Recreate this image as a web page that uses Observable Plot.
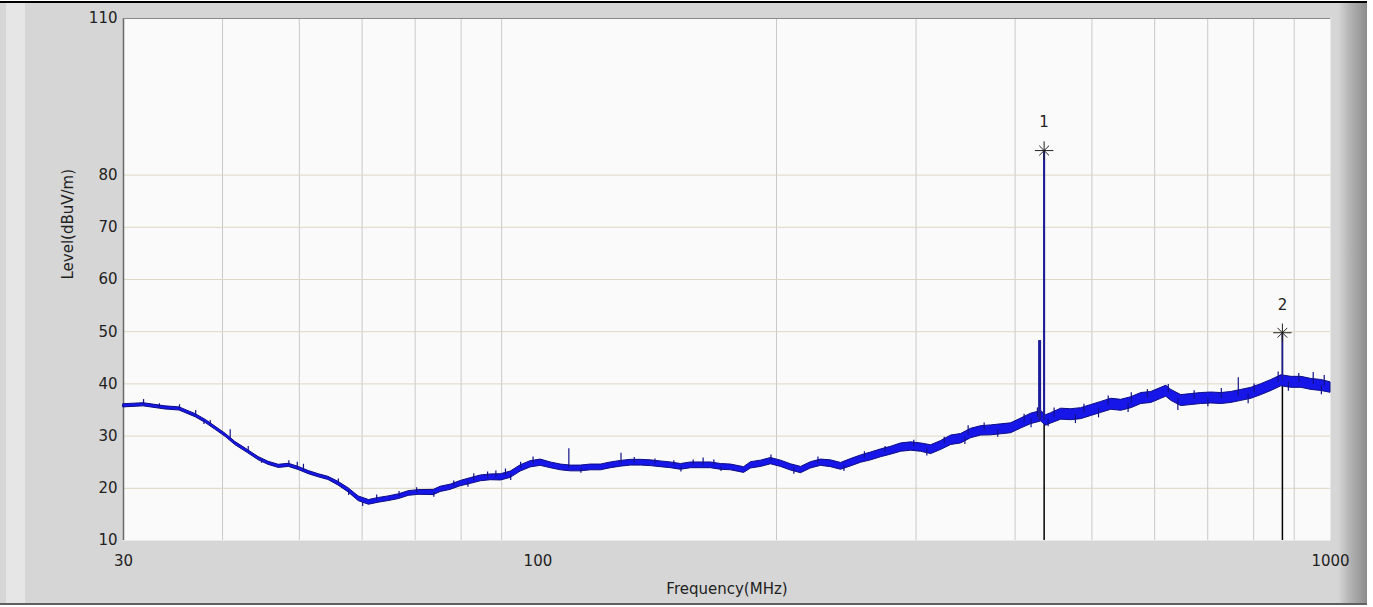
<!DOCTYPE html>
<html>
<head>
<meta charset="utf-8">
<script src="https://cdn.jsdelivr.net/npm/d3@7"></script>
<script src="https://cdn.jsdelivr.net/npm/@observablehq/plot@0.6"></script>
<style>
  body { margin: 0; background: #ffffff; }
  #wrap { position: relative; width: 1373px; height: 607px; overflow: hidden; }
  #frame { position: absolute; left: 0; top: 1px; width: 1367px; height: 604px; background: #d6d6d6;
           border-top: 2px solid #000; border-bottom: 2px solid #606060; box-sizing: border-box; }
  #lstrip { position: absolute; left: 6px; top: 3px; width: 19px; height: 600px; background: #e6e6e6; }
  #rstrip { position: absolute; left: 1338px; top: 3px; width: 29px; height: 600px;
            background: linear-gradient(to right, #d6d6d6, #b4b4b4 40%, #8c8c8c); }
  #chart { position: absolute; left: 0; top: 0; }
</style>
</head>
<body>
<div id="wrap">
  <div id="frame"></div>
  <div id="lstrip"></div>
  <div id="rstrip"></div>
  <div id="chart"></div>
</div>
<script>
// Trace: frequency (MHz), centre level (dBuV/m), half thickness of the noise band (dB)
const freq = [30, 31.8, 33.9, 35.3, 37.0, 38.1, 39.2, 40.4, 41.5, 43.1, 44.4, 45.7, 47.1, 48.5, 49.9, 51.4,
  52.9, 54.4, 56.0, 57.7, 59.4, 61.2, 63.0, 64.8, 66.8, 68.7, 70.7, 73.9, 75.4, 77.6, 79.9, 82.3, 84.7, 87.2,
  89.8, 92.4, 95.1, 97.9, 100.8, 103.8, 106.9, 110.0, 113.3, 116.6, 120.1, 123.6, 127.3, 131.0, 134.9, 138.8,
  142.9, 147.2, 151.5, 156.0, 160.6, 165.3, 170.2, 175.2, 182.0, 185.7, 191.2, 196.8, 202.6, 208.6, 214.8,
  221.0, 227.6, 234.3, 241.2, 248.3, 255.7, 263.2, 270.9, 279.0, 287.2, 295.7, 304.4, 313.4, 322.6, 332.2,
  341.9, 352.0, 362.4, 373.1, 384.1, 395.4, 407.0, 419.1, 431.4, 437.7, 444.2, 457.3, 470.8, 484.6, 499.0,
  513.8, 528.9, 544.5, 560.6, 577.1, 594.2, 611.6, 620.6, 629.7, 648.2, 667.3, 686.9, 707.3, 728.2, 749.5,
  771.8, 794.6, 817.9, 842.2, 867.0, 892.6, 919.0, 945.9, 973.8, 1000];
const level = [35.8, 36.0, 35.4, 35.2, 33.9, 32.8, 31.5, 30.1, 28.6, 27.0, 25.7, 24.8, 24.2, 24.4, 23.8, 23.0,
  22.4, 21.9, 20.9, 19.6, 18.0, 17.3, 17.7, 18.0, 18.4, 19.0, 19.2, 19.2, 19.8, 20.2, 20.9, 21.4, 21.9, 22.1,
  22.1, 22.6, 23.8, 24.6, 24.9, 24.4, 24.0, 23.8, 23.8, 24.0, 24.0, 24.4, 24.7, 24.9, 24.9, 24.8,
  24.6, 24.4, 24.1, 24.4, 24.4, 24.4, 24.1, 24.0, 23.5, 24.4, 24.7, 25.2, 24.7, 24.0, 23.5,
  24.4, 24.9, 24.7, 24.2, 24.9, 25.6, 26.1, 26.7, 27.2, 27.8, 28.0, 27.8, 27.4, 28.2, 29.2,
  29.5, 30.5, 31.0, 31.1, 31.3, 31.5, 32.4, 33.3, 33.8, 33.0, 33.4, 34.2, 34.1, 34.3, 34.9,
  35.5, 36.1, 35.9, 36.4, 37.2, 37.4, 38.2, 38.6, 37.8, 36.8, 37.0, 37.2, 37.3, 37.2, 37.4,
  37.8, 38.2, 38.9, 39.7, 40.6, 40.3, 40.3, 39.9, 39.7, 39.3];
const halfBand = [0.3, 0.3, 0.3, 0.3, 0.3, 0.3, 0.3, 0.3, 0.3, 0.3, 0.3, 0.3, 0.3, 0.3, 0.3, 0.3,
  0.3, 0.3, 0.35, 0.4, 0.45, 0.45, 0.45, 0.45, 0.45, 0.45, 0.45, 0.5, 0.5, 0.5, 0.5, 0.55, 0.55, 0.55,
  0.6, 0.6, 0.6, 0.6, 0.6, 0.55, 0.55, 0.55, 0.55, 0.55, 0.55, 0.55, 0.55, 0.55, 0.55, 0.55,
  0.55, 0.55, 0.55, 0.55, 0.55, 0.55, 0.55, 0.55, 0.55, 0.6, 0.6, 0.6, 0.6, 0.6, 0.6,
  0.6, 0.6, 0.65, 0.65, 0.7, 0.7, 0.75, 0.75, 0.75, 0.8, 0.8, 0.8, 0.85, 0.85, 0.9,
  0.9, 0.9, 0.9, 0.95, 0.95, 0.95, 0.95, 1.0, 1.0, 1.0, 1.0, 1.05, 1.05, 1.05, 1.05,
  1.05, 1.05, 1.05, 1.05, 1.05, 1.05, 1.05, 1.05, 1.05, 1.05, 1.05, 1.05, 1.05, 1.05, 1.05,
  1.05, 1.05, 1.05, 1.05, 1.05, 1.05, 1.05, 1.05, 1.05, 1.0];

// Narrow noise spikes visible on the trace (frequency, start level, tip level)
const spikeFreq = [31.8, 33.3, 35.3, 37.0, 38.6, 40.9, 43.1, 48.5, 49.7, 50.6, 56.0, 62.6, 66.8, 70.3, 78.3,
  83.0, 86.4, 88.5, 91.0, 95.1, 98.6, 109.4, 127.3, 132.3, 140.5, 148.4, 157.0, 161.6, 166.7, 196.8, 225.6,
  258.2, 274.2, 298.0, 325.6, 349.0, 365.6, 410.6, 426.8, 448.0, 488.6, 524.3, 560.6, 587.5, 624.2, 672.9,
  728.2, 765.0, 801.0, 859.0, 912.0, 951.0, 982.0,
  37.9, 44.8, 57.7, 60.1, 73.9, 81.6, 92.4, 113.3, 151.5, 170.2, 210.3, 243.3, 309.5, 345.7, 380.3, 419.0,
  440.3, 476.6, 509.7, 555.4, 641.8, 700.3, 787.2, 884.8, 973.8];
const spikeBase = [36.0, 35.5, 35.2, 33.9, 32.2, 29.6, 27.0, 24.4, 23.9, 23.4, 20.9, 17.7, 18.4, 19.2, 20.4,
  21.5, 22.0, 22.1, 22.4, 23.8, 24.7, 23.8, 24.7, 24.9, 24.7, 24.3, 24.4, 24.4, 24.4, 25.2, 24.8,
  25.8, 26.9, 28.0, 28.5, 30.2, 31.0, 32.6, 33.6, 33.6, 34.4, 35.9, 36.4, 37.3, 38.3, 37.0,
  37.2, 37.7, 38.3, 40.3, 40.3, 39.9, 39.6,
  32.9, 25.4, 19.6, 17.3, 19.2, 21.2, 22.6, 23.8, 24.1, 24.1, 23.9, 24.3, 27.6, 29.8, 31.2, 33.3,
  33.2, 34.2, 35.3, 36.3, 37.2, 37.3, 38.1, 40.4, 39.7];
const spikeTip = [37.0, 36.2, 36.0, 34.9, 33.0, 31.2, 28.0, 25.3, 25.0, 24.6, 21.8, 18.7, 19.4, 20.1, 21.4,
  22.8, 23.1, 23.3, 23.7, 25.0, 26.0, 27.6, 26.7, 25.9, 25.6, 25.3, 25.4, 25.8, 25.4, 26.4, 26.0,
  27.0, 28.0, 29.2, 29.8, 32.0, 32.5, 34.2, 35.4, 35.4, 36.1, 37.7, 38.3, 38.9, 39.9, 38.7,
  39.1, 41.2, 40.0, 42.3, 42.0, 42.2, 41.6,
  32.2, 24.8, 18.6, 16.5, 18.3, 20.2, 21.5, 22.9, 23.1, 23.2, 22.7, 23.2, 26.2, 28.4, 29.8, 31.6,
  31.8, 32.4, 33.5, 34.5, 34.9, 35.6, 36.2, 38.6, 37.9];

// Emission peaks
const peakFreq = [429.5, 435.2, 869.6];
const peakBase = [33.0, 33.0, 40.6];
const peakTop  = [48.3, 84.7, 49.8];
const peakWidth = [3, 2, 1.5];

// Markers
const markerLabel = ["1", "2"];
const markerFreq = [435.2, 869.6];
const markerLevel = [84.7, 49.8];

// Axes
const xTicks = [30, 100, 1000];
const yTicks = [10, 20, 30, 40, 50, 60, 70, 80, 110];
const gridX = [40, 50, 60, 70, 80, 90, 200, 300, 400, 500, 600, 700, 800, 900];
const gridY = [20, 30, 40, 50, 60, 70, 80];
const xLabel = "Frequency(MHz)";
const yLabel = "Level(dBuV/m)";

const trace = freq.map((f, i) => ({f, lo: level[i] - halfBand[i], hi: level[i] + halfBand[i]}));
const spikes = spikeFreq.map((f, i) => ({f, y1: spikeBase[i], y2: spikeTip[i]}));
const peaks = peakFreq.map((f, i) => ({f, y1: peakBase[i], y2: peakTop[i], w: peakWidth[i]}));
const markers = markerLabel.map((l, i) => ({l, f: markerFreq[i], y: markerLevel[i]}));

const chart = Plot.plot({
  width: 1373,
  height: 607,
  marginLeft: 123,
  marginRight: 43,
  marginTop: 18,
  marginBottom: 67,
  style: {background: "transparent", fontFamily: "DejaVu Sans", color: "#222"},
  x: {type: "log", domain: [30, 1000]},
  y: {domain: [10, 110]},
  marks: [
    Plot.frame({fill: "#fafafa", stroke: null}),
    Plot.ruleX(gridX, {y1: 10, y2: 110, stroke: "#c9c9c9", strokeWidth: 1}),
    Plot.ruleY(gridY, {x1: 30, x2: 1000, stroke: "#ddd8c2", strokeWidth: 1}),
    Plot.ruleX([30], {y1: 10, y2: 110, stroke: "#6a6a6a", strokeWidth: 1.5}),
    Plot.ruleY([110], {x1: 30, x2: 1000, stroke: "#8a8a8a", strokeWidth: 1}),
    Plot.ruleX(markers, {x: "f", y1: 10, y2: "y", stroke: "#000", strokeWidth: 1.5}),
    Plot.areaY(trace, {x: "f", y1: "lo", y2: "hi", fill: "#1616e8", stroke: "#0c0c86", strokeWidth: 1, curve: "linear"}),
    Plot.ruleX(spikes, {x: "f", y1: "y1", y2: "y2", stroke: "#12128a", strokeWidth: 1.2}),
    Plot.ruleX(peaks, {x: "f", y1: "y1", y2: "y2", stroke: "#1c1c9a", strokeWidth: "w"}),
    Plot.dot(markers, {x: "f", y: "y", symbol: "plus", r: 6, stroke: "#222", strokeWidth: 1}),
    Plot.dot(markers, {x: "f", y: "y", symbol: "times", r: 4.5, stroke: "#222", strokeWidth: 1}),
    Plot.text(markers, {x: "f", y: "y", text: "l", dy: -28, fontSize: 15, fill: "#222"}),
    Plot.axisX({ticks: xTicks, tickSize: 0, tickPadding: 15, fontSize: 15, label: null, tickFormat: d => String(d)}),
    Plot.axisY({ticks: yTicks, tickSize: 0, tickPadding: 6, fontSize: 15, label: null, tickFormat: d => String(d)}),
    Plot.text([xLabel], {frameAnchor: "bottom", dy: 53, text: d => d, fontSize: 15, fill: "#222"}),
    Plot.text([yLabel], {frameAnchor: "left", dx: -55, rotate: -90, text: d => d, fontSize: 15, fill: "#222"})
  ]
});
document.getElementById("chart").appendChild(chart);
</script>
</body>
</html>
